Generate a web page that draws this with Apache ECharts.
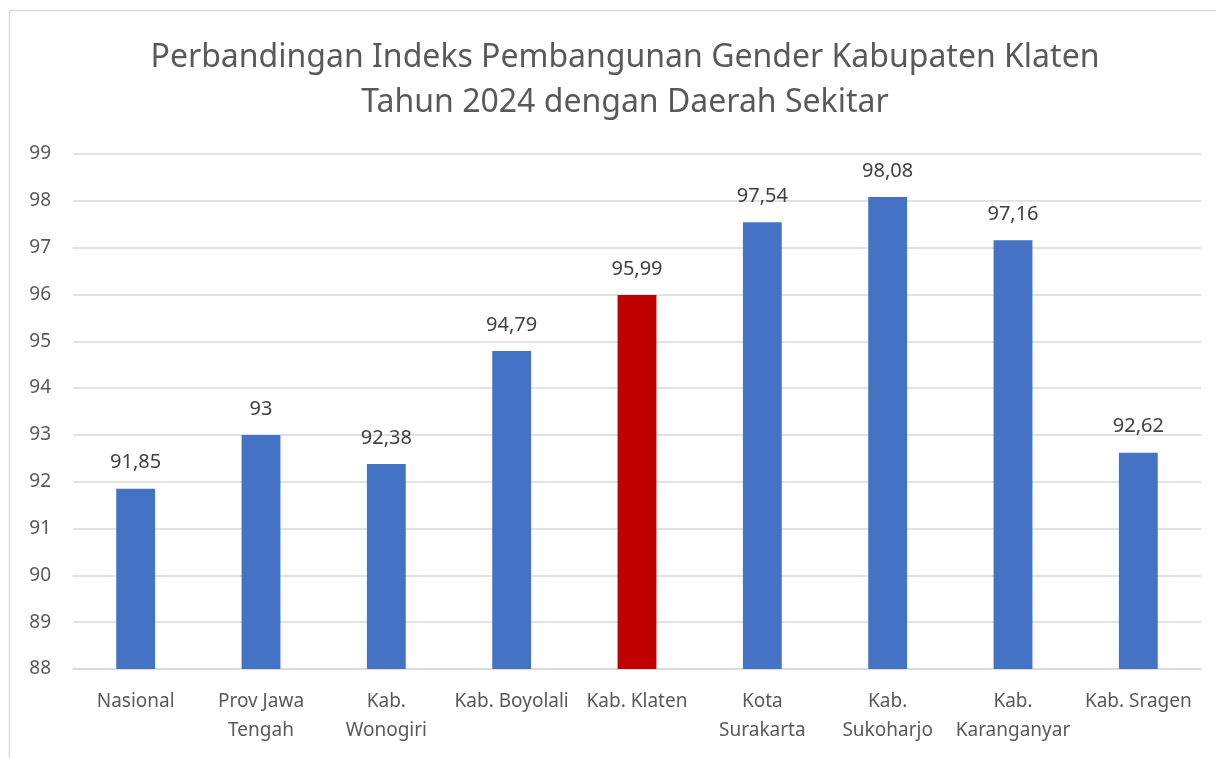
<!DOCTYPE html>
<html>
<head>
<meta charset="utf-8">
<script src="https://cdn.jsdelivr.net/npm/echarts@6/dist/echarts.min.js"></script>
<style>
  html, body { margin: 0; padding: 0; background: #fff; }
  #main { width: 1216px; height: 758px; }
</style>
</head>
<body>
<div id="main"></div>
<script>
// data
var categories = ['Nasional', 'Prov Jawa\nTengah', 'Kab.\nWonogiri', 'Kab. Boyolali', 'Kab. Klaten',
    'Kota\nSurakarta', 'Kab.\nSukoharjo', 'Kab.\nKaranganyar', 'Kab. Sragen'];
var ipgValues = [91.85, 93, 92.38, 94.79, 95.99, 97.54, 98.08, 97.16, 92.62];
var highlightName = 'Kab. Klaten';

(function () {
    var chart = echarts.init(document.getElementById('main'));
    var font = '"Noto Sans", "Open Sans", sans-serif';

    // bar colour: Klaten in red, rest blue
    var barData = ipgValues.map(function (v, i) {
        return {
            value: v,
            itemStyle: { color: categories[i] === highlightName ? '#c00000' : '#4472c4' }
        };
    });

    var option = {
        animation: false,
        backgroundColor: '#fff',
        title: {
            text: 'Perbandingan Indeks Pembangunan Gender Kabupaten Klaten\nTahun 2024 dengan Daerah Sekitar',
            left: 620,
            textAlign: 'center',
            top: 30,
            textStyle: {
                fontFamily: font,
                fontSize: 32,
                fontWeight: 'normal',
                color: '#595959',
                lineHeight: 45
            }
        },
        graphic: [{
            type: 'polyline',
            shape: { points: [[9.5, 758], [9.5, 10.5], [1216, 10.5]] },
            style: { stroke: '#d9d9d9', lineWidth: 1.5, fill: null }
        }],
        grid: { left: 73, right: 15, top: 154, bottom: 89 },
        xAxis: {
            type: 'category',
            data: categories,
            axisLine: { show: true, lineStyle: { color: '#d9d9d9', width: 1.5 } },
            axisTick: { show: false },
            axisLabel: {
                interval: 0,
                margin: 18,
                fontFamily: font,
                fontSize: 19,
                color: '#595959',
                lineHeight: 29
            }
        },
        yAxis: {
            type: 'value',
            min: 88,
            max: 99,
            interval: 1,
            axisLine: { show: false },
            axisTick: { show: false },
            splitLine: { lineStyle: { color: '#d9d9d9', width: 1.5 } },
            axisLabel: {
                margin: 22,
                fontFamily: font,
                fontSize: 19,
                color: '#595959'
            }
        },
        series: [{
            type: 'bar',
            data: barData,
            barWidth: '31%',
            label: {
                show: true,
                position: 'top',
                distance: 16,
                fontFamily: font,
                fontSize: 20,
                color: '#404040',
                formatter: function (p) {
                    return String(p.value).replace('.', ',');
                }
            }
        }]
    };
    chart.setOption(option);
})();
</script>
</body>
</html>
